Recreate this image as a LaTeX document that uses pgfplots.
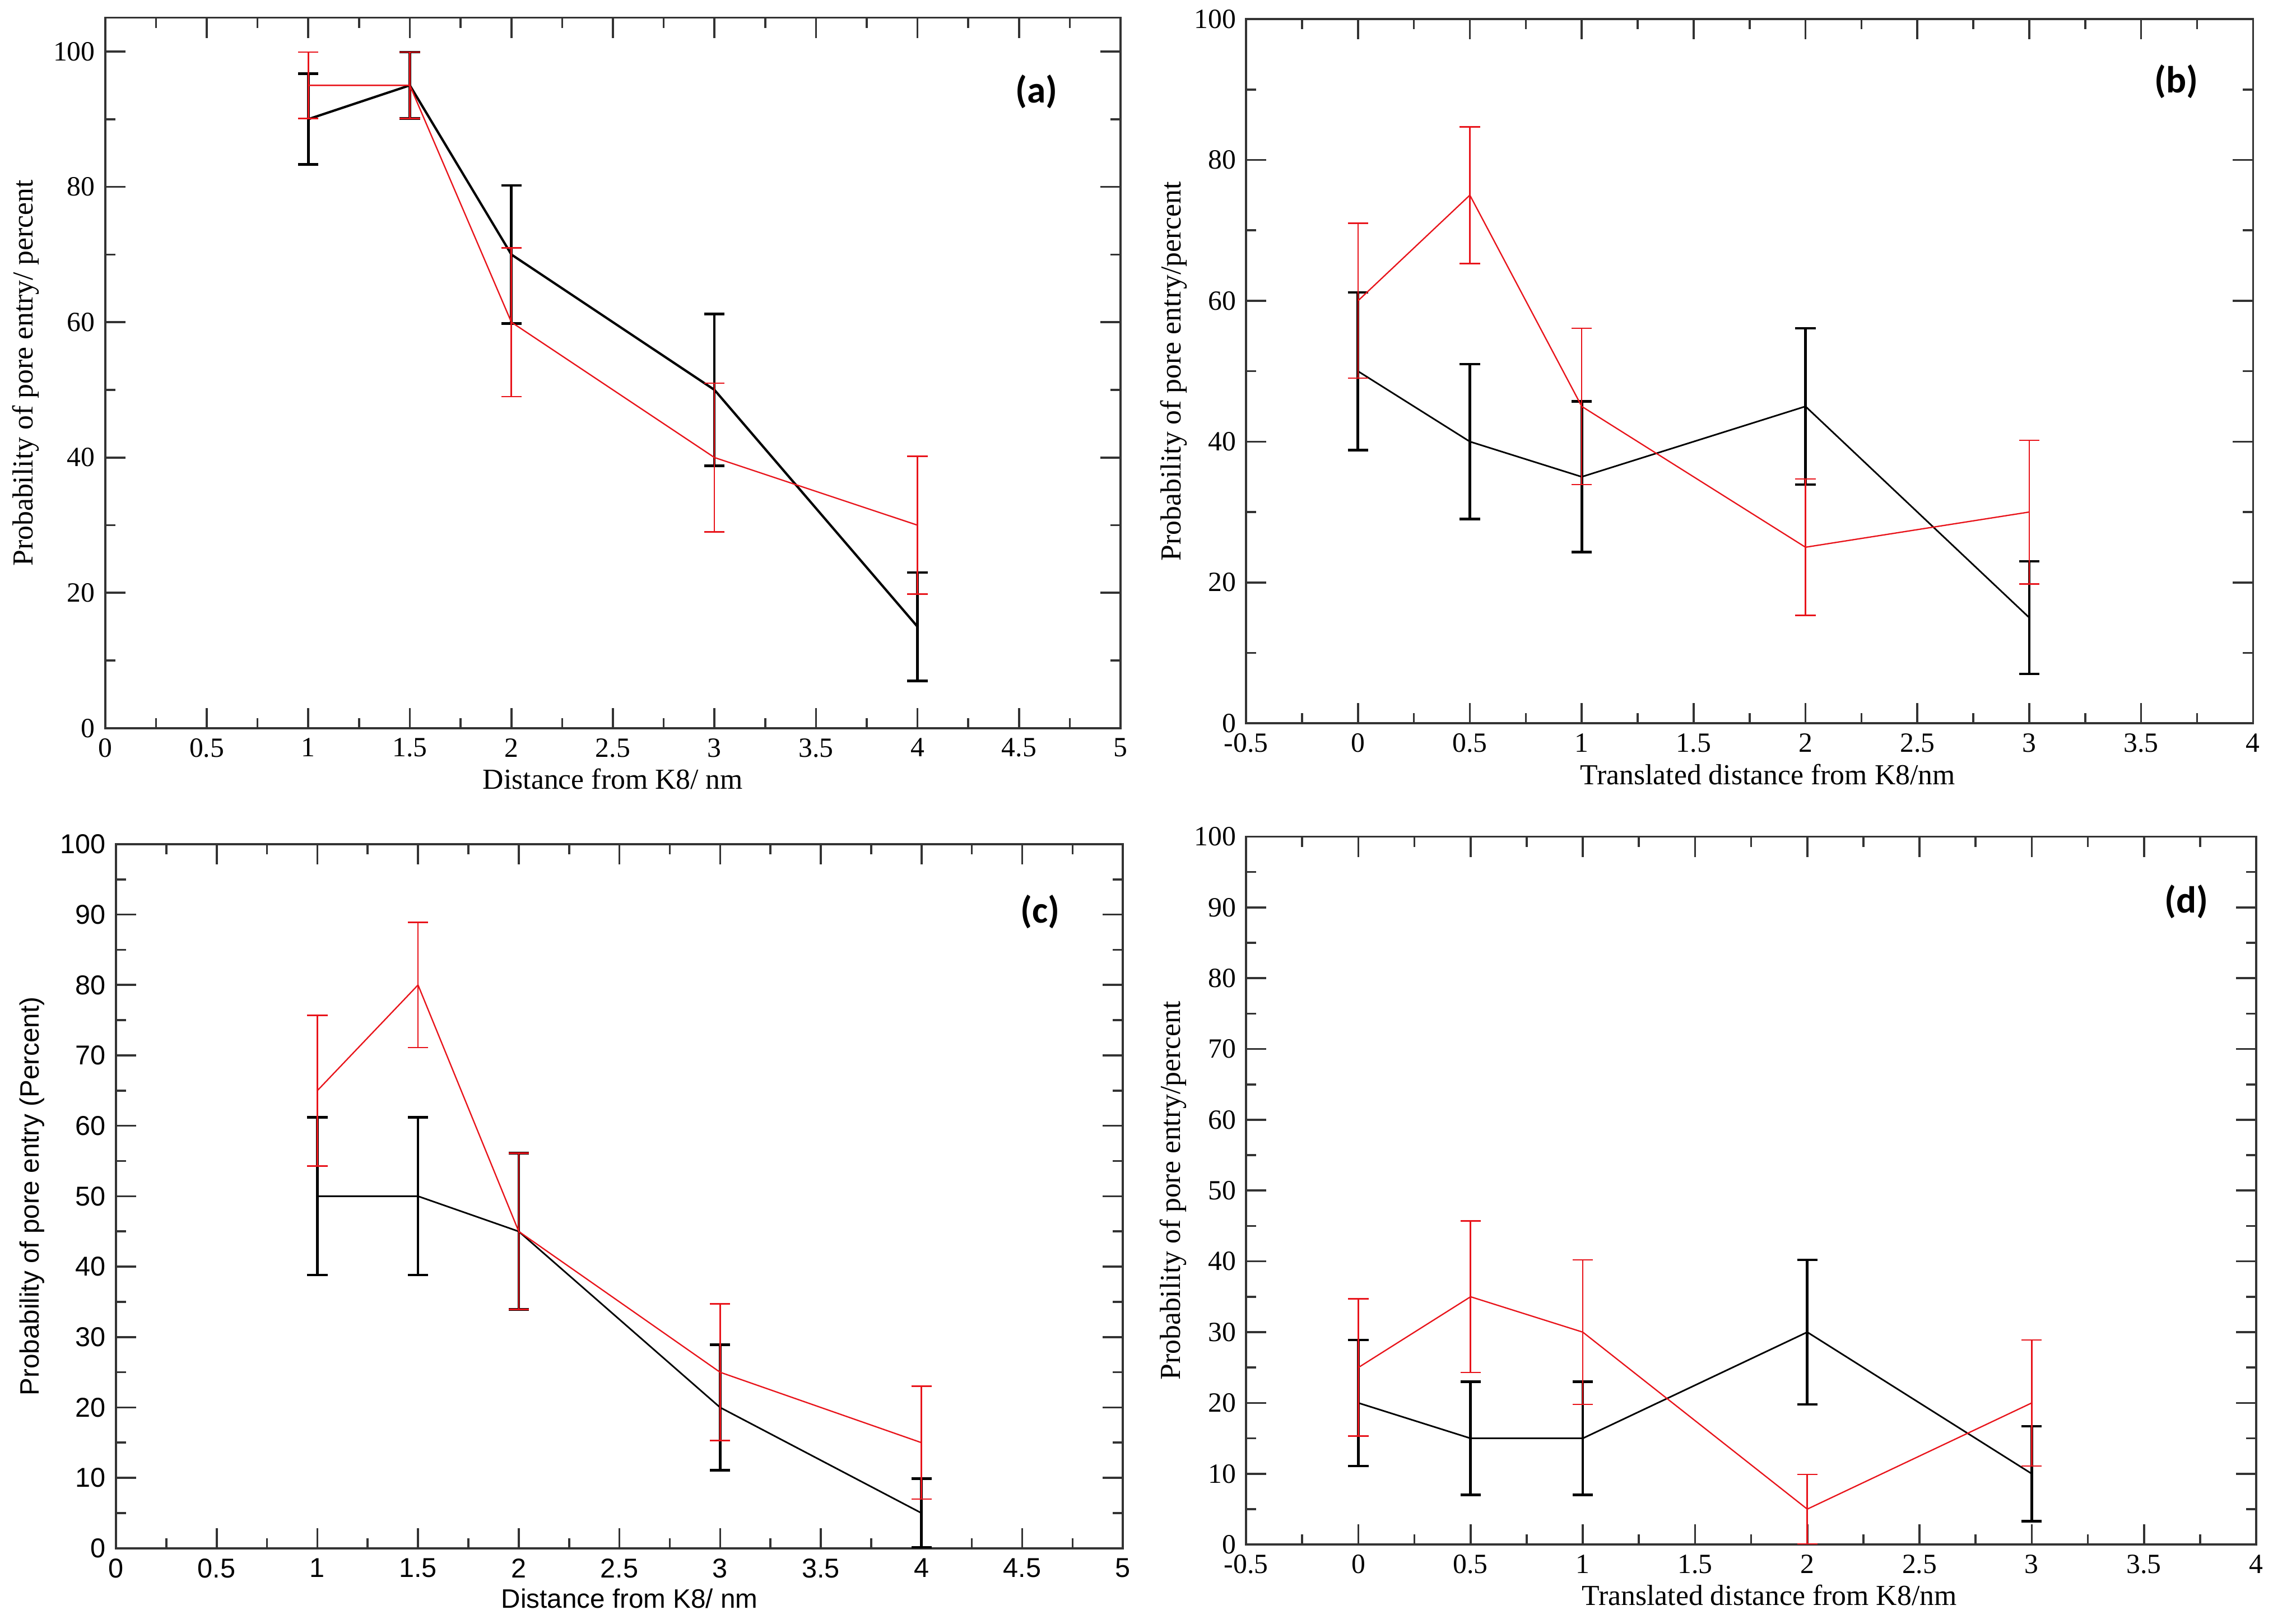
\documentclass[border=0pt]{standalone}
\usepackage{pgfplots}
\pgfplotsset{compat=1.18}
\usepackage{fontspec}
\setmainfont{Liberation Serif}
\newfontfamily\sans{Liberation Sans}
\newfontfamily\carlito{Carlito}
\definecolor{axgray}{HTML}{333333}
\definecolor{pred}{HTML}{E8141B}
\tikzset{plab/.style={font=\carlito\bfseries\fontsize{13}{14}\selectfont}}
\pgfplotsset{
  panel/.style={
    scale only axis,
    anchor=south west,
    axis line style={axgray, line width=0.7pt},
    tick style={axgray, line width=0.7pt},
    tick align=inside,
    major tick length=7pt,
    minor tick length=3.5pt,
    minor x tick num=1,
    minor y tick num=1,
    /pgf/number format/assume math mode=true,
    ticklabel style={font=\fontsize{9.6}{11}\selectfont},
    label style={font=\fontsize{10}{12}\selectfont},
    xtick pos=both, ytick pos=both,
    xticklabel pos=lower, yticklabel pos=left,
  },
  blk/.style={black, line width=#1, no markers,
    error bars/.cd, y dir=both, y explicit,
    error bar style={line width=0.9pt, black},
    error mark options={rotate=90, mark size=3.5pt, line width=0.9pt, black}},
  blk/.default=0.55pt,
  rd/.style={pred, line width=0.45pt, no markers,
    error bars/.cd, y dir=both, y explicit,
    error bar style={line width=0.5pt, pred},
    error mark options={rotate=90, mark size=3.5pt, line width=0.5pt, pred}},
}
\begin{document}
\begin{tikzpicture}
\path[use as bounding box] (0,0) rectangle (784pt,560.2pt);

% (a)
\begin{axis}[panel, at={(36.3pt,309pt)}, width=350.2pt, height=245.1pt,
  xmin=0, xmax=5, ymin=0, ymax=105,
  xtick={0,0.5,...,5}, ytick={0,20,...,100},
  xlabel={Distance from K8/ nm},
  ylabel={Probability of pore entry/ percent},
  xlabel style={at={(axis description cs:0.5,-0.0714)}, anchor=center},
  ylabel style={at={(axis description cs:-0.0786,0.5)}, anchor=center, rotate=0},
]
\addplot[blk=0.8pt] coordinates {(1,90)+-(0,6.7) (1.5,95)+-(0,4.9) (2,70)+-(0,10.2) (3,50)+-(0,11.2) (4,15)+-(0,8.0)};
\addplot[rd] coordinates {(1,95)+-(0,4.9) (1.5,95)+-(0,4.9) (2,60)+-(0,11.0) (3,40)+-(0,11.0) (4,30)+-(0,10.2)};
\node[plab] at (rel axis cs:0.917,0.896) {(a)};
\end{axis}

% (b)
\begin{axis}[panel, at={(429.8pt,310.7pt)}, width=347.3pt, height=242.9pt,
  xmin=-0.5, xmax=4, ymin=0, ymax=100,
  xtick={-0.5,0,...,4}, ytick={0,20,...,100},
  xlabel={Translated distance from K8/nm},
  ylabel={Probability of pore entry/percent},
  xlabel style={at={(axis description cs:0.518,-0.0725)}, anchor=center},
  ylabel style={at={(axis description cs:-0.072,0.5)}, anchor=center, rotate=0},
]
\addplot[blk] coordinates {(0,50)+-(0,11.2) (0.5,40)+-(0,11.0) (1,35)+-(0,10.7) (2,45)+-(0,11.1) (3,15)+-(0,8.0)};
\addplot[rd] coordinates {(0,60)+-(0,11.0) (0.5,75)+-(0,9.7) (1,45)+-(0,11.1) (2,25)+-(0,9.7) (3,30)+-(0,10.2)};
\node[plab] at (rel axis cs:0.924,0.911) {(b)};
\end{axis}

% (c)
\begin{axis}[panel, at={(40.0pt,26.1pt)}, width=347.3pt, height=242.9pt,
  xmin=0, xmax=5, ymin=0, ymax=100,
  xtick={0,0.5,...,5}, ytick={0,10,...,100},
  ticklabel style={font=\sans\fontsize{9.4}{11}\selectfont},
  label style={font=\sans\fontsize{9.2}{11}\selectfont},
  xlabel={Distance from K8/ nm},
  ylabel={Probability of pore entry (Percent)},
  xlabel style={at={(axis description cs:0.51,-0.0716)}, anchor=center},
  ylabel style={at={(axis description cs:-0.0835,0.5)}, anchor=center, rotate=0},
]
\addplot[blk] coordinates {(1,50)+-(0,11.2) (1.5,50)+-(0,11.2) (2,45)+-(0,11.1) (3,20)+-(0,8.9) (4,5)+-(0,4.9)};
\addplot[rd] coordinates {(1,65)+-(0,10.7) (1.5,80)+-(0,8.9) (2,45)+-(0,11.1) (3,25)+-(0,9.7) (4,15)+-(0,8.0)};
\node[plab] at (rel axis cs:0.918,0.904) {(c)};
\end{axis}

% (d)
\begin{axis}[panel, at={(429.8pt,27.4pt)}, width=348.4pt, height=244.2pt,
  xmin=-0.5, xmax=4, ymin=0, ymax=100,
  xtick={-0.5,0,...,4}, ytick={0,10,...,100},
  xlabel={Translated distance from K8/nm},
  ylabel={Probability of pore entry/percent},
  xlabel style={at={(axis description cs:0.518,-0.0719)}, anchor=center},
  ylabel style={at={(axis description cs:-0.072,0.5)}, anchor=center, rotate=0},
]
\addplot[blk] coordinates {(0,20)+-(0,8.9) (0.5,15)+-(0,8.0) (1,15)+-(0,8.0) (2,30)+-(0,10.2) (3,10)+-(0,6.7)};
\addplot[rd] coordinates {(0,25)+-(0,9.7) (0.5,35)+-(0,10.7) (1,30)+-(0,10.2) (2,5)+-(0,4.9) (3,20)+-(0,8.9)};
\node[plab] at (rel axis cs:0.931,0.908) {(d)};
\end{axis}
\end{tikzpicture}
\end{document}
